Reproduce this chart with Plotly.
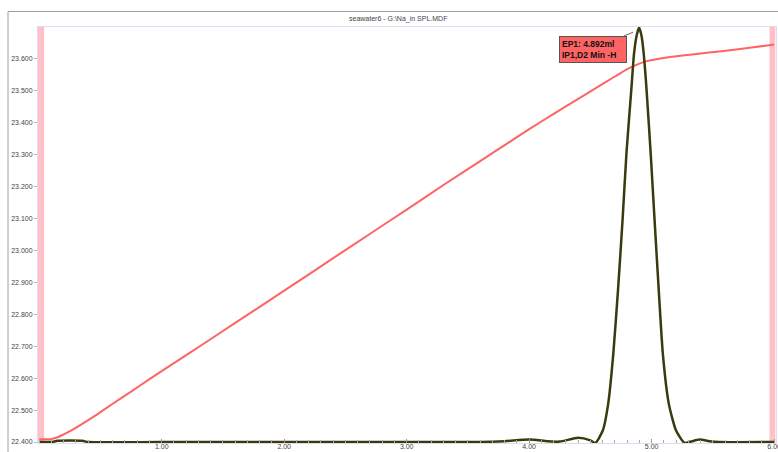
import plotly.graph_objects as go

# ---- data ----
title_text = "seawater6 - G:\\Na_in SPL.MDF"

vol_ml = [0.0, 0.09, 0.15, 0.2, 0.27, 0.335, 0.47, 0.6, 0.75, 0.9, 1.2, 1.6,
          2.0, 2.4, 2.68, 3.0, 3.3, 3.6, 3.8, 4.0, 4.2, 4.4, 4.55, 4.7, 4.8,
          4.88, 4.96, 5.05, 5.15, 5.35, 5.55, 5.8, 6.0]
potential = [22.409, 22.409, 22.415, 22.424, 22.438, 22.453, 22.486, 22.52,
             22.558, 22.597, 22.672, 22.773, 22.874, 22.976, 23.047, 23.128,
             23.205, 23.28, 23.33, 23.38, 23.428, 23.475, 23.51, 23.545,
             23.568, 23.582, 23.593, 23.600, 23.606, 23.615, 23.623, 23.635,
             23.645]

deriv_x = [0.0, 0.1, 0.15, 0.35, 0.4, 1.0, 2.0, 3.0, 3.6, 3.8, 4.0, 4.15, 4.25,
           4.4, 4.5, 4.54, 4.6, 4.645, 4.686, 4.726, 4.762, 4.794, 4.835, 4.856,
           4.877, 4.897, 4.917, 4.935, 4.957, 4.992, 5.024, 5.057, 5.092, 5.14,
           5.2, 5.268, 5.32, 5.39, 5.47, 5.55, 6.0]
deriv_y = [0.0, 0.0, 0.003, 0.003, 0.0, 0.0, 0.0, 0.0, 0.0, 0.002, 0.006, 0.002,
           0.001, 0.01, 0.004, -0.002, 0.027, 0.092, 0.21, 0.37, 0.534, 0.696,
           0.855, 0.937, 0.98, 1.0, 0.98, 0.937, 0.855, 0.696, 0.534, 0.37,
           0.21, 0.092, 0.027, -0.002, 0.001, 0.006, 0.002, 0.0, 0.0]

x_ticks = [1, 2, 3, 4, 5, 6]
x_tick_labels = ["1.00", "2.00", "3.00", "4.00", "5.00", "6.00"]
y_ticks = [22.4, 22.5, 22.6, 22.7, 22.8, 22.9, 23.0, 23.1, 23.2, 23.3, 23.4, 23.5, 23.6]
y_tick_labels = ["22.400", "22.500", "22.600", "22.700", "22.800", "22.900", "23.000",
                 "23.100", "23.200", "23.300", "23.400", "23.500", "23.600"]

ep_x = 4.849
ep_y = 23.684
ep_text = "<b>EP1: 4.892ml<br>IP1,D2 Min -H</b>"

# ---- figure ----
W, H = 778, 452
ml, mr, mt, mb = 38, 2, 26.5, 9
pw, ph = W - ml - mr, H - mt - mb


def px2paper_x(px):
    return (px - ml) / pw


def px2paper_y(py):
    return (H - mb - py) / ph


fig = go.Figure()
fig.add_trace(go.Scatter(x=vol_ml, y=potential, mode="lines",
                         line=dict(color="#ff6464", width=2, shape="spline", smoothing=0.5),
                         yaxis="y", showlegend=False, hoverinfo="skip"))
fig.add_trace(go.Scatter(x=deriv_x, y=deriv_y, mode="lines",
                         line=dict(color="#3a3a0c", width=2.5, shape="spline",
                                   smoothing=0.6),
                         yaxis="y2", showlegend=False, hoverinfo="skip"))

font_family = "Liberation Sans, Arial, sans-serif"

fig.update_layout(
    width=W, height=H,
    margin=dict(l=ml, r=mr, t=mt, b=mb, pad=0, autoexpand=False),
    paper_bgcolor="white", plot_bgcolor="white",
    font=dict(family=font_family, size=7, color="#444"),
    xaxis=dict(range=[-0.01, 6.015], tickvals=x_ticks, ticktext=x_tick_labels,
               ticks="inside", ticklen=4, tickcolor="#999",
               tickfont=dict(size=7, color="#444"), ticklabelstandoff=-3,
               ticklabeloverflow="allow", automargin=False,
               minor=dict(dtick=0.1, tick0=0, ticks="inside", ticklen=3, tickcolor="#aaa"),
               showgrid=False, zeroline=False, showline=True, linecolor="#dcdcf5",
               linewidth=1, mirror=True),
    yaxis=dict(range=[22.397, 23.70], tickvals=y_ticks, ticktext=y_tick_labels,
               ticks="outside", ticklen=3, tickcolor="#bbb", tickfont=dict(size=7, color="#444"),
               automargin=False,
               showgrid=False, zeroline=False, showline=True, linecolor="#dcdcf5",
               linewidth=1, mirror=True),
    yaxis2=dict(range=[-0.0024, 1.0012], overlaying="y", side="right",
                visible=False, showgrid=False, zeroline=False, automargin=False),
    shapes=[
        dict(type="rect", xref="x", yref="paper", x0=-0.01, x1=0.04, y0=0, y1=1,
             fillcolor="#ffc0c8", line=dict(width=0), layer="below"),
        dict(type="rect", xref="x", yref="paper", x0=5.962, x1=6.01, y0=0, y1=1,
             fillcolor="#ffc0c8", line=dict(width=0), layer="below"),
        dict(type="line", xref="paper", yref="paper",
             x0=px2paper_x(8), x1=px2paper_x(779), y0=px2paper_y(11), y1=px2paper_y(11),
             line=dict(color="#a0a0a0", width=1)),
        dict(type="line", xref="paper", yref="paper",
             x0=px2paper_x(8), x1=px2paper_x(8), y0=px2paper_y(11), y1=px2paper_y(453),
             line=dict(color="#a0a0a0", width=1)),
    ],
    annotations=[
        dict(text=title_text, xref="paper", yref="paper",
             x=px2paper_x(397.5), y=px2paper_y(18.5), showarrow=False,
             xanchor="center", yanchor="middle",
             font=dict(family=font_family, size=7, color="#444")),
        dict(text=ep_text, x=ep_x, y=ep_y, xref="x", yref="y",
             showarrow=True, arrowhead=0, arrowwidth=1, arrowcolor="#666",
             ax=-40, ay=17, standoff=0, width=62, height=21,
             bgcolor="#ff6464", bordercolor="#555", borderwidth=1, borderpad=2,
             align="left", valign="middle",
             font=dict(family=font_family, size=8.5, color="#111")),
    ],
)

fig.write_html("out.html")
